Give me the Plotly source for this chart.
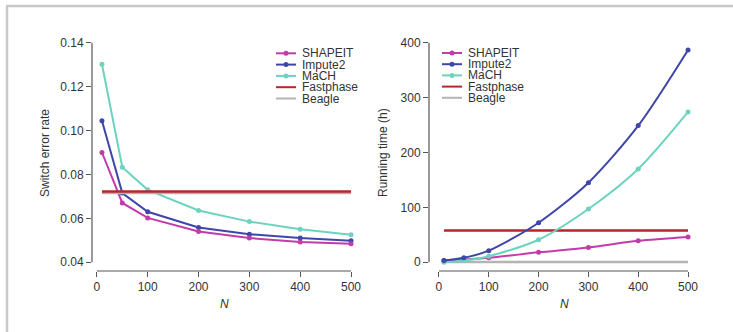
import plotly.graph_objects as go

W, H = 733, 332

# ---------------- data ----------------
N = [10, 50, 100, 200, 300, 400, 500]

err_shapeit = [0.0900, 0.0670, 0.0602, 0.0540, 0.0510, 0.0492, 0.0484]
err_impute2 = [0.1045, 0.0715, 0.0630, 0.0558, 0.0528, 0.0510, 0.0498]
err_mach = [0.1302, 0.0833, 0.0730, 0.0636, 0.0585, 0.0550, 0.0525]
err_fastphase = 0.0722
err_beagle = 0.0716

time_shapeit = [3, 5, 8, 18, 27, 39, 46]
time_impute2 = [3, 8, 21, 72, 145, 249, 387]
time_mach = [0, 3, 11, 41, 97, 170, 274]
time_fastphase = 58
time_beagle = 0.5

names = ["SHAPEIT", "Impute2", "MaCH", "Fastphase", "Beagle"]
colors = ["#C23BAA", "#3E46A8", "#6DD3BF", "#B32828", "#B4B4B4"]
has_marker = [True, True, True, False, False]

x_ticks = [0, 100, 200, 300, 400, 500]
err_ticks = [0.04, 0.06, 0.08, 0.10, 0.12, 0.14]
err_tick_text = ["0.04", "0.06", "0.08", "0.10", "0.12", "0.14"]
time_ticks = [0, 100, 200, 300, 400]

FONT = "Liberation Sans, Arial, sans-serif"
TXT = "#333333"
AX = "#555555"

fig = go.Figure()

# left panel
for vals, c, nm in [(err_shapeit, colors[0], names[0]),
                    (err_impute2, colors[1], names[1]),
                    (err_mach, colors[2], names[2])][::-1]:
    fig.add_trace(go.Scatter(x=N, y=vals, mode="lines+markers", name=nm,
                             line=dict(color=c, width=2),
                             marker=dict(color=c, size=5),
                             xaxis="x", yaxis="y", showlegend=False))
fig.add_trace(go.Scatter(x=[N[0], N[-1]], y=[err_beagle] * 2, mode="lines",
                         line=dict(color=colors[4], width=2.5),
                         xaxis="x", yaxis="y", showlegend=False))
fig.add_trace(go.Scatter(x=[N[0], N[-1]], y=[err_fastphase] * 2, mode="lines",
                         line=dict(color=colors[3], width=2.5),
                         xaxis="x", yaxis="y", showlegend=False))

# right panel
fig.add_trace(go.Scatter(x=[N[0], N[-1]], y=[time_beagle] * 2, mode="lines",
                         line=dict(color=colors[4], width=2.5),
                         xaxis="x2", yaxis="y2", showlegend=False))
fig.add_trace(go.Scatter(x=[N[0], N[-1]], y=[time_fastphase] * 2, mode="lines",
                         line=dict(color=colors[3], width=2.5),
                         xaxis="x2", yaxis="y2", showlegend=False))
for vals, c, nm in [(time_shapeit, colors[0], names[0]),
                    (time_mach, colors[2], names[2]),
                    (time_impute2, colors[1], names[1])]:
    fig.add_trace(go.Scatter(x=N, y=vals, mode="lines+markers", name=nm,
                             line=dict(color=c, width=2, shape="spline", smoothing=0.8),
                             marker=dict(color=c, size=5),
                             xaxis="x2", yaxis="y2", showlegend=False))

def px(x):
    return x / W

def py(y):
    return 1 - y / H

ydom = [py(271), py(34)]
common_axis = dict(showgrid=False, zeroline=False, showline=False,
                   ticks="outside", ticklen=5, tickwidth=1, tickcolor=AX,
                   tickfont=dict(family=FONT, size=12, color=TXT))

layout = dict(
    width=W, height=H, margin=dict(l=0, r=0, t=0, b=0),
    paper_bgcolor="white", plot_bgcolor="white", showlegend=False,
    xaxis=dict(domain=[px(92), px(361)], range=[-9.6, 519.6], tickvals=x_ticks,
               anchor="y", **common_axis),
    yaxis=dict(domain=ydom, range=[0.036, 0.144], tickvals=err_ticks,
               ticktext=err_tick_text, anchor="x", **common_axis),
    xaxis2=dict(domain=[px(429), px(698)], range=[-20, 520], tickvals=x_ticks,
                anchor="y2", **common_axis),
    yaxis2=dict(domain=ydom, range=[-16, 416], tickvals=time_ticks,
                anchor="x2", **common_axis),
)
fig.update_layout(**layout)

shapes = []
# R-style detached axis lines
shapes.append(dict(type="line", xref="x domain", yref="y", x0=0, x1=0,
                   y0=err_ticks[0], y1=err_ticks[-1], line=dict(color=AX, width=1.2)))
shapes.append(dict(type="line", xref="x", yref="y domain", x0=x_ticks[0], x1=x_ticks[-1],
                   y0=0, y1=0, line=dict(color=AX, width=1.2)))
shapes.append(dict(type="line", xref="x2 domain", yref="y2", x0=0, x1=0,
                   y0=time_ticks[0], y1=time_ticks[-1], line=dict(color=AX, width=1.2)))
shapes.append(dict(type="line", xref="x2", yref="y2 domain", x0=x_ticks[0], x1=x_ticks[-1],
                   y0=0, y1=0, line=dict(color=AX, width=1.2)))

# page border (gray frame at top and left)
shapes.append(dict(type="line", xref="paper", yref="paper", x0=px(6), x1=1,
                   y0=py(6), y1=py(6), line=dict(color="#C8C8C8", width=2.5)))
shapes.append(dict(type="line", xref="paper", yref="paper", x0=px(7), x1=px(7),
                   y0=py(6), y1=0, line=dict(color="#C8C8C8", width=2.5)))

annotations = []

# legends
def legend(x_line0, x_text, y_first, step):
    for i, (nm, c, mk) in enumerate(zip(names, colors, has_marker)):
        yy = y_first + i * step
        shapes.append(dict(type="line", xref="paper", yref="paper",
                           x0=px(x_line0), x1=px(x_line0 + 20), y0=py(yy), y1=py(yy),
                           line=dict(color=c, width=2)))
        if mk:
            cx = x_line0 + 10
            shapes.append(dict(type="circle", xref="paper", yref="paper",
                               x0=px(cx - 2.5), x1=px(cx + 2.5),
                               y0=py(yy + 2.5), y1=py(yy - 2.5),
                               fillcolor=c, line=dict(color=c, width=0)))
        annotations.append(dict(xref="paper", yref="paper", x=px(x_text), y=py(yy),
                                text=nm, showarrow=False, xanchor="left", yanchor="middle",
                                font=dict(family=FONT, size=12, color=TXT)))

legend(276, 300, 53.3, 11.3)
legend(442, 466, 53, 11.2)

# axis titles
annotations.append(dict(xref="paper", yref="paper", x=px(45), y=py(153),
                        text="Switch error rate", textangle=-90, showarrow=False,
                        xanchor="center", yanchor="middle",
                        font=dict(family=FONT, size=12, color=TXT)))
annotations.append(dict(xref="paper", yref="paper", x=px(383), y=py(153),
                        text="Running time (h)", textangle=-90, showarrow=False,
                        xanchor="center", yanchor="middle",
                        font=dict(family=FONT, size=12, color=TXT)))
annotations.append(dict(xref="paper", yref="paper", x=px(224), y=py(304),
                        text="<i>N</i>", showarrow=False, xanchor="center", yanchor="middle",
                        font=dict(family=FONT, size=12, color=TXT)))
annotations.append(dict(xref="paper", yref="paper", x=px(564), y=py(304),
                        text="<i>N</i>", showarrow=False, xanchor="center", yanchor="middle",
                        font=dict(family=FONT, size=12, color=TXT)))

fig.update_layout(shapes=shapes, annotations=annotations)
fig.write_html("out.html", config={"displayModeBar": False},
               post_script="document.body.style.margin='0';document.body.style.overflow='hidden';")
